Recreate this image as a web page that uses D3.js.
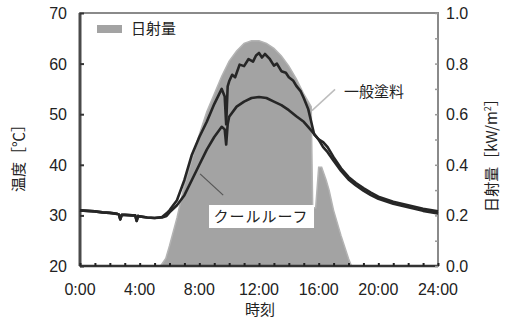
<!DOCTYPE html>
<meta charset="utf-8">
<style type="text/css">
	body { margin: 0; background: #fff; }
	.tick-label { font-family: "Liberation Sans", Arial, sans-serif; font-size: 16px; fill: #222; }
	.jp { font-family: "Noto Sans CJK JP", sans-serif; font-size: 15px; fill: #222; }
	.area-sun { fill: #a3a3a3; stroke: #b4b4b4; stroke-width: 1.5; }
	.line-temp { fill: none; stroke: #262626; stroke-width: 2.6; stroke-linejoin: round; }
</style>
<div class="vis-sun"></div>
<script src="https://d3js.org/d3.v7.min.js"></script>
<script>

	// ---- //
	// Data //
	// ---- //

	// 一般塗料 temperature [°C] (hour, value)
	let ippanTime = [0, 0.5, 1, 1.5, 2, 2.5, 2.6, 2.7, 2.8, 3, 3.5, 3.7, 3.8, 3.9, 4, 4.5, 5, 5.5, 5.8, 6, 6.5, 7, 7.5, 8, 8.5, 9, 9.5, 9.7, 9.8, 9.9, 10, 10.2, 10.4, 10.7, 11, 11.3, 11.6, 11.8, 12, 12.2, 12.4, 12.7, 13, 13.2, 13.5, 13.8, 14, 14.3, 14.5, 14.8, 15, 15.3, 15.5, 15.7, 16, 16.3, 16.6, 17, 17.5, 18, 18.5, 19, 19.5, 20, 21, 22, 23, 24];
	let ippanTemp = [31.0, 30.9, 30.8, 30.6, 30.5, 30.3, 30.2, 29.2, 30.1, 30.1, 30.0, 30.0, 28.9, 29.9, 29.8, 29.6, 29.5, 29.7, 30.4, 31.0, 33.0, 37.0, 42.0, 45.5, 48.5, 52.0, 55.0, 53.5, 48.0, 55.5, 56.5, 57.8, 57.3, 59.8, 59.5, 60.9, 60.4, 61.6, 62.1, 61.2, 61.9, 61.0, 59.6, 60.0, 58.5, 58.2, 57.3, 56.6, 55.6, 54.5, 53.2, 51.0, 48.5, 46.0, 45.0, 44.5, 43.5, 41.5, 39.3, 37.6, 36.4, 35.4, 34.5, 33.7, 32.7, 32.0, 31.3, 30.8];

	// クールルーフ temperature [°C]
	let coolTime = [0, 0.5, 1, 1.5, 2, 2.5, 2.6, 2.7, 2.8, 3, 3.5, 3.7, 3.8, 3.9, 4, 4.5, 5, 5.5, 5.8, 6, 6.5, 7, 7.5, 8, 8.5, 9, 9.5, 9.7, 9.8, 9.9, 10, 10.5, 11, 11.5, 12, 12.5, 13, 13.5, 14, 14.5, 15, 15.5, 16, 16.3, 16.6, 17, 17.5, 18, 18.5, 19, 19.5, 20, 21, 22, 23, 24];
	let coolTemp = [31.0, 30.9, 30.8, 30.6, 30.5, 30.3, 30.2, 29.2, 30.1, 30.1, 30.0, 30.0, 28.9, 29.9, 29.8, 29.6, 29.5, 29.6, 29.9, 30.6, 32.0, 34.0, 37.0, 40.0, 43.0, 45.5, 47.5, 47.0, 44.0, 48.0, 49.5, 51.5, 52.5, 53.2, 53.4, 53.2, 52.5, 51.8, 50.8, 49.6, 48.5, 46.8, 45.0, 43.5, 42.5, 40.8, 38.8, 37.1, 35.9, 34.9, 34.0, 33.3, 32.3, 31.6, 30.9, 30.4];

	// 日射量 [kW/m2]
	let sunTime = [5.4, 5.75, 6, 6.5, 7, 7.5, 8, 8.5, 9, 9.5, 10, 10.5, 11, 11.5, 12, 12.5, 13, 13.5, 14, 14.5, 15, 15.5, 15.6, 15.8, 16.0, 16.2, 16.5, 16.7, 17, 17.5, 18, 18.2];
	let sunValue = [0, 0.03, 0.08, 0.19, 0.32, 0.42, 0.52, 0.61, 0.68, 0.75, 0.81, 0.85, 0.88, 0.89, 0.89, 0.88, 0.86, 0.83, 0.79, 0.74, 0.68, 0.63, 0.23, 0.23, 0.39, 0.39, 0.34, 0.30, 0.22, 0.12, 0.03, 0];

	// Ticks
	let xTicks = [0, 4, 8, 12, 16, 20, 24];
	let xTickLabels = ["0:00", "4:00", "8:00", "12:00", "16:00", "20:00", "24:00"];
	let yTicks = [20, 30, 40, 50, 60, 70];
	let y2Ticks = [0, 0.2, 0.4, 0.6, 0.8, 1.0];

	// ----- //
	// Setup //
	// ----- //

	let margin = {top: 13, right: 68, bottom: 56, left: 80};
	let W = 506, H = 322;
	let width = W - margin.left - margin.right,
		height = H - margin.top - margin.bottom;

	let x = d3.scaleLinear().domain([0, 24]).range([0, width]);
	let y = d3.scaleLinear().domain([20, 70]).range([height, 0]);
	let y2 = d3.scaleLinear().domain([0, 1]).range([height, 0]);

	let svg = d3.select(".vis-sun")
		.append("svg")
			.attr("width", W)
			.attr("height", H)
		.append("g")
			.attr("transform", "translate(" + margin.left + "," + margin.top + ")");

	// AREA (solar radiation)
	let sunData = zip(sunTime, sunValue);
	let area = d3.area()
		.x(d => x(d[0]))
		.y0(height)
		.y1(d => y2(d[1]));
	svg.append("path")
		.datum(sunData)
		.attr("class", "area-sun")
		.attr("d", area);

	// FRAME
	svg.append("rect")
		.attr("width", width)
		.attr("height", height)
		.attr("fill", "none")
		.attr("stroke", "#8a8a8a")
		.attr("stroke-width", 2);
	svg.append("line").attr("x1", 0).attr("x2", 0).attr("y1", 0).attr("y2", height)
		.attr("stroke", "#4a4a4a").attr("stroke-width", 3);
	svg.append("line").attr("x1", 0).attr("x2", width).attr("y1", height).attr("y2", height)
		.attr("stroke", "#333").attr("stroke-width", 2.5);

	// AXES (inward ticks, labels drawn separately)
	let xAxis = d3.axisTop(x).tickValues(d3.range(0, 25, 1)).tickSize(3).tickFormat("");
	svg.append("g").attr("transform", "translate(0," + height + ")").call(xAxis)
		.call(g => g.select(".domain").remove())
		.call(g => g.selectAll("line").attr("stroke", "#222").attr("stroke-width", 2));

	let yAxis = d3.axisRight(y).tickValues(yTicks).tickSize(4).tickFormat("");
	svg.append("g").call(yAxis)
		.call(g => g.select(".domain").remove())
		.call(g => g.selectAll("line").attr("stroke", "#333").attr("stroke-width", 2));

	let y2Axis = d3.axisLeft(y2).tickValues(d3.range(0, 1.01, 0.1)).tickSize(3).tickFormat("");
	svg.append("g").attr("transform", "translate(" + width + ",0)").call(y2Axis)
		.call(g => g.select(".domain").remove())
		.call(g => g.selectAll("line").attr("stroke", "#999").attr("stroke-width", 1.5));

	// TICK LABELS
	svg.selectAll(".xlab")
		.data(xTicks)
		.enter().append("text")
		.attr("class", "tick-label")
		.attr("x", d => x(d))
		.attr("y", height + 29)
		.attr("text-anchor", "middle")
		.text((d, i) => xTickLabels[i]);
	svg.selectAll(".ylab")
		.data(yTicks)
		.enter().append("text")
		.attr("class", "tick-label")
		.attr("x", -13)
		.attr("y", d => y(d) + 6)
		.attr("text-anchor", "end")
		.text(d => d);
	svg.selectAll(".y2lab")
		.data(y2Ticks)
		.enter().append("text")
		.attr("class", "tick-label")
		.attr("x", width + 8)
		.attr("y", d => y2(d) + 6)
		.attr("text-anchor", "start")
		.text(d => d.toFixed(1));

	// LINES
	let valueline = d3.line()
		.x(d => x(d[0]))
		.y(d => y(d[1]));
	svg.append("path")
		.datum(zip(ippanTime, ippanTemp))
		.attr("class", "line-temp")
		.attr("d", valueline);
	svg.append("path")
		.datum(zip(coolTime, coolTemp))
		.attr("class", "line-temp")
		.attr("d", valueline);

	// LEGEND
	svg.append("rect")
		.attr("x", 17).attr("y", 12)
		.attr("width", 25).attr("height", 8)
		.attr("fill", "#a3a3a3");
	svg.append("text")
		.attr("class", "jp")
		.attr("x", 51).attr("y", 21)
		.text("日射量");

	// ANNOTATIONS
	svg.append("line")
		.attr("x1", x(15.55)).attr("y1", y(50.7))
		.attr("x2", x(17.1)).attr("y2", y(54.9))
		.attr("stroke", "#bdbdbd").attr("stroke-width", 1.5);
	svg.append("text")
		.attr("class", "jp")
		.attr("x", x(17.7)).attr("y", 84)
		.text("一般塗料");

	svg.append("line")
		.attr("x1", x(8.05)).attr("y1", y(38.2))
		.attr("x2", x(9.6)).attr("y2", y(34.0))
		.attr("stroke", "#555").attr("stroke-width", 1.2);
	svg.append("rect")
		.attr("x", x(8.65)).attr("y", 192)
		.attr("width", 105).attr("height", 23)
		.attr("fill", "#fff");
	svg.append("text")
		.attr("class", "jp")
		.attr("x", x(8.65) + 52).attr("y", 209)
		.attr("text-anchor", "middle")
		.attr("letter-spacing", "1px")
		.text("クールルーフ");

	// AXIS TITLES
	svg.append("text")
		.attr("class", "jp")
		.attr("transform", "translate(" + (-56) + "," + (height / 2 + 15) + ") rotate(-90)")
		.attr("text-anchor", "middle")
		.text("温度［℃］");
	svg.append("text")
		.attr("class", "jp")
		.attr("transform", "translate(" + (width + 59) + "," + (height / 2 + 12) + ") rotate(-90)")
		.attr("text-anchor", "middle")
		.html("日射量［kW/m<tspan dy='-6' font-size='9px'>2</tspan><tspan dy='6'>］</tspan>");
	svg.append("text")
		.attr("class", "jp")
		.attr("x", width / 2 + 1).attr("y", height + 49)
		.attr("text-anchor", "middle")
		.text("時刻");

	// Utilities
	function zip(a, b) {
		return a.map((e, i) => [e, b[i]]);
	}
</script>
